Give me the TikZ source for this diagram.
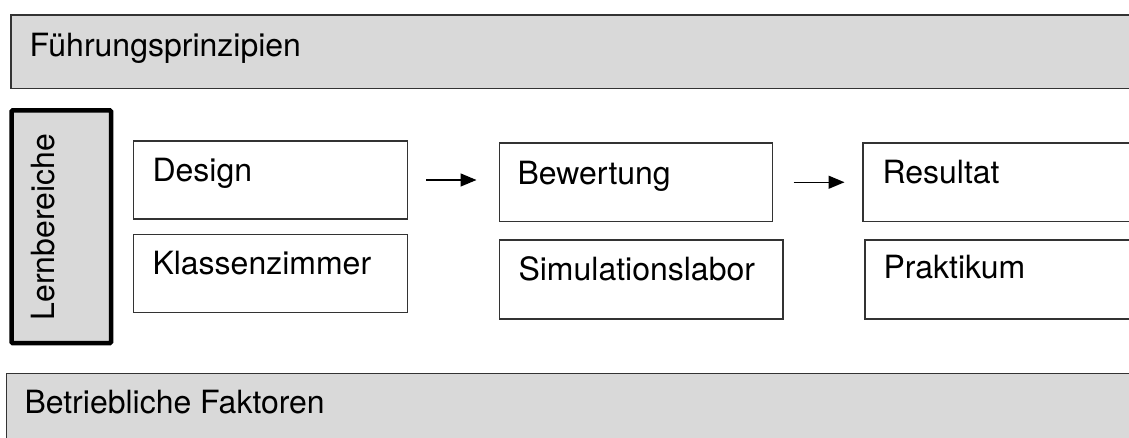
\documentclass[tikz,border=0pt]{standalone}
\usepackage{fontspec}
\setmainfont{TeX Gyre Heros}
\usetikzlibrary{arrows.meta}
\definecolor{panelgray}{HTML}{D9D9D9}
\definecolor{edgegray}{HTML}{333333}
\tikzset{
  band/.style={draw=edgegray, line width=1.5pt, fill=panelgray, anchor=north west,
    inner sep=0pt, outer sep=0pt},
  areabox/.style={draw=black, line width=4.5pt, fill=panelgray, anchor=north west,
    inner sep=0pt, outer sep=0pt, rounded corners=1pt},
  stagebox/.style={draw=edgegray, line width=1.1pt, fill=white, anchor=north west,
    inner sep=0pt, outer sep=0pt},
  lbl/.style={anchor=base west, inner sep=0pt, outer sep=0pt,
    font=\fontsize{32}{38}\selectfont},
  flow/.style={line width=1.4pt, -{Triangle[length=16pt,width=13pt]}},
}
\begin{document}
\begin{tikzpicture}[x=1pt,y=-1pt]
  \useasboundingbox (0,0) rectangle (1129,438);
  \clip (0,0) rectangle (1129,438);

  % outer bands
  \node[band, minimum width=1140pt, minimum height=73.3pt] (lead) at (11,15) {};
  \node[lbl] (leadtext) at (29.5,56.5) {Führungsprinzipien};

  \node[band, minimum width=1140pt, minimum height=90pt] (ops) at (6.5,373.5) {};
  \node[lbl] (opstext) at (24.5,413) {Betriebliche Faktoren};

  % vertical area label
  \node[areabox, minimum width=99.5pt, minimum height=232.5pt] (area) at (11.5,110.5) {};
  \node[lbl, rotate=90] (areatext) at (54.5,320.5) {Lernbereiche};

  % stage boxes
  \node[stagebox, minimum width=274pt, minimum height=78pt] (design) at (133.5,141) {};
  \node[lbl] (designtext) at (152.5,181.5) {Design};
  \node[stagebox, minimum width=274pt, minimum height=78pt] (class) at (133.5,234.5) {};
  \node[lbl] (classtext) at (152.5,275) {Klassenzimmer};

  \node[stagebox, minimum width=273pt, minimum height=78.5pt] (eval) at (499.5,143) {};
  \node[lbl] (evaltext) at (517.5,185) {Bewertung};
  \node[stagebox, minimum width=283.5pt, minimum height=79pt] (sim) at (499.5,240) {};
  \node[lbl] (simtext) at (518.5,280) {Simulationslabor};

  \node[stagebox, minimum width=300pt, minimum height=78.5pt] (result) at (863,143) {};
  \node[lbl] (resulttext) at (882.5,183.5) {Resultat};
  \node[stagebox, minimum width=300pt, minimum height=79pt] (practice) at (865,240) {};
  \node[lbl] (practicetext) at (883.5,278) {Praktikum};

  % flow arrows
  \draw[flow, shorten <=18.5pt, shorten >=23pt] (design.east) -- (design.east -| eval.west);
  \draw[flow, shorten <=21pt, shorten >=18.5pt] (eval.east) -- (eval.east -| result.west);
\end{tikzpicture}
\end{document}
